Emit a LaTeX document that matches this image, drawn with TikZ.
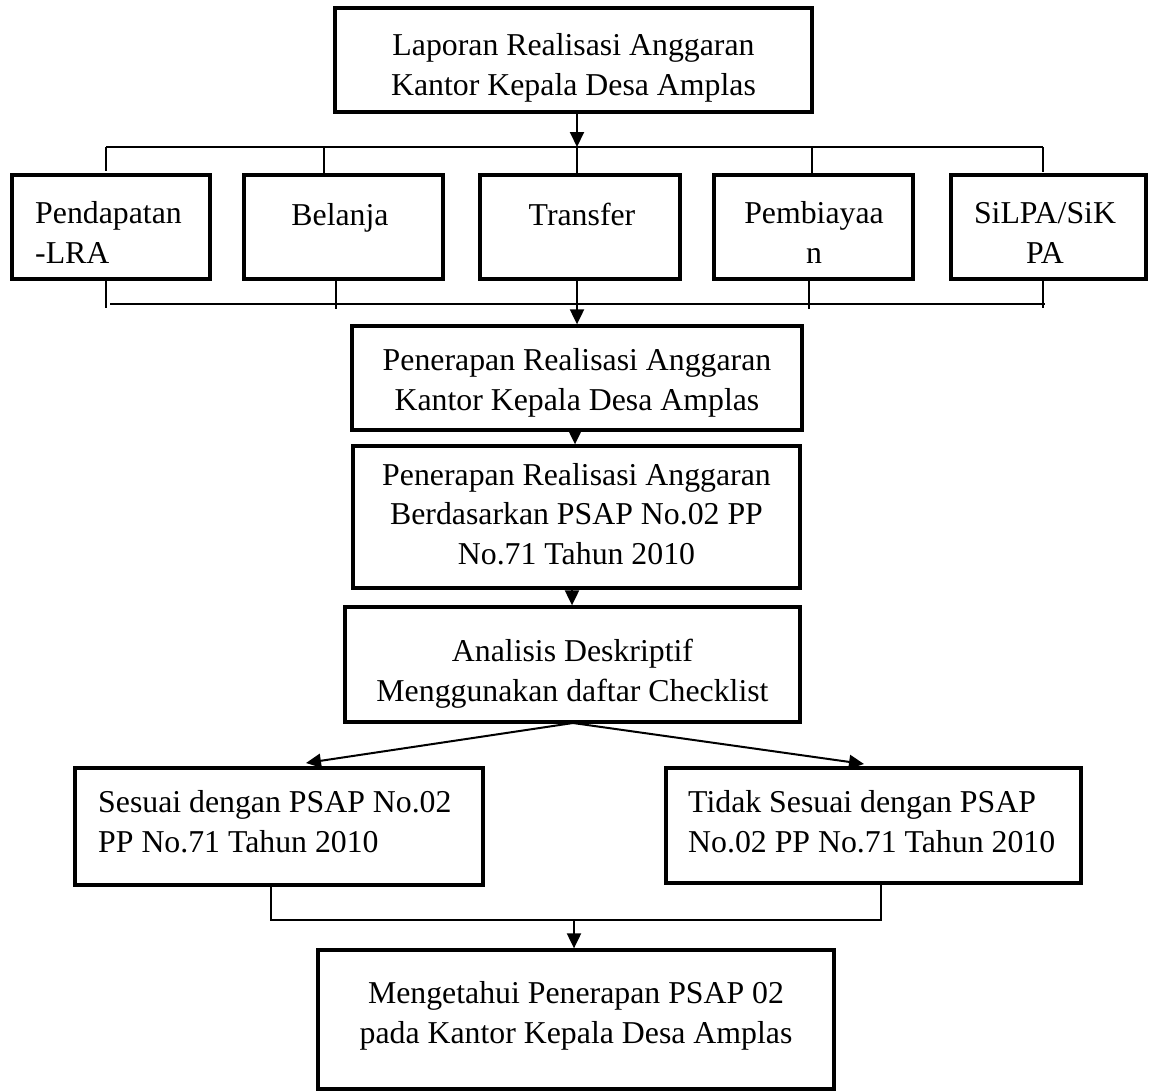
\documentclass[tikz,border=0pt]{standalone}
\usepackage{fontspec}
\setmainfont{Liberation Serif}
\usetikzlibrary{arrows.meta,calc}
\begin{document}
\begin{tikzpicture}[x=1pt,y=-1pt,
  boxx/.style={draw, line width=3.3pt, inner sep=0pt, rectangle},
  txt/.style={inner sep=0pt, font=\fontsize{31.8}{39.5}\selectfont},
  lnk/.style={line width=1.4pt},
  arr/.style={line width=2pt, -{Triangle[length=15pt,width=14pt]}}]
\useasboundingbox (0,0) rectangle (1149,1092);
% boxes
\node[boxx, minimum width=477pt, minimum height=104pt] (top) at (573.5,60) {};
\node[boxx, minimum width=198pt, minimum height=104pt] (p) at (111,227) {};
\node[boxx, minimum width=199pt, minimum height=104pt] (b) at (343.5,227) {};
\node[boxx, minimum width=200pt, minimum height=104pt] (t) at (580,227) {};
\node[boxx, minimum width=199pt, minimum height=104pt] (pm) at (813.5,227) {};
\node[boxx, minimum width=195pt, minimum height=104pt] (s) at (1048.5,227) {};
\node[boxx, minimum width=450pt, minimum height=104pt] (p1) at (577,378) {};
\node[boxx, minimum width=447pt, minimum height=142pt] (p2) at (576.5,517) {};
\node[boxx, minimum width=455pt, minimum height=115pt] (an) at (572.5,664.5) {};
\node[boxx, minimum width=408pt, minimum height=117pt] (se) at (279,826.5) {};
\node[boxx, minimum width=415pt, minimum height=115pt] (ti) at (873.5,825.5) {};
\node[boxx, minimum width=516pt, minimum height=139pt] (me) at (576,1019.5) {};
% texts (anchor = baseline of last line)
\node[txt, anchor=base, align=center] (topt) at (573.5,95) {Laporan Realisasi Anggaran\\Kantor Kepala Desa Amplas};
\node[txt, anchor=base west, align=left] (pt) at (35,263) {Pendapatan\\-LRA};
\node[txt, anchor=base] (bt) at (340,225) {Belanja};
\node[txt, anchor=base] (tt) at (582,225) {Transfer};
\node[txt, anchor=base, align=center] (pmt) at (814,263) {Pembiayaa\\n};
\node[txt, anchor=base, align=center] (st) at (1045,263) {SiLPA/SiK\\PA};
\node[txt, anchor=base, align=center] (p1t) at (577,410) {Penerapan Realisasi Anggaran\\Kantor Kepala Desa Amplas};
\node[txt, anchor=base, align=center] (p2t) at (576.5,564) {Penerapan Realisasi Anggaran\\Berdasarkan PSAP No.02 PP\\No.71 Tahun 2010};
\node[txt, anchor=base, align=center] (ant) at (572.5,701) {Analisis Deskriptif\\Menggunakan daftar Checklist};
\node[txt, anchor=base west, align=left] (set) at (98,852) {Sesuai dengan PSAP No.02\\PP No.71 Tahun 2010};
\node[txt, anchor=base west, align=left] (tit) at (688,852) {Tidak Sesuai dengan PSAP\\No.02 PP No.71 Tahun 2010};
\node[txt, anchor=base, align=center] (met) at (576,1043) {Mengetahui Penerapan PSAP 02\\pada Kantor Kepala Desa Amplas};
% upper bus
\coordinate (ua) at (106,147);
\coordinate (ub) at (324,147);
\coordinate (uc) at (577,147);
\coordinate (ud) at (812,147);
\coordinate (ue) at (1043,147);
\draw[arr] (top.south -| uc) -- (uc);
\draw[lnk] (ua) -- (ue);
\draw[lnk] (ua) -- ++(0,24);
\draw[lnk] (ub) -- (ub |- b.north);
\draw[lnk] (uc) -- (uc |- t.north);
\draw[lnk] (ud) -- (ud |- pm.north);
\draw[lnk] (ue) -- ++(0,25);
% lower bus
\coordinate (la) at (106,304);
\coordinate (lb) at (336,304);
\coordinate (lc) at (577,304);
\coordinate (ld) at (809,304);
\coordinate (le) at (1043,304);
\draw[lnk] ($(la)+(4,0)$) -- ($(le)+(2,0)$);
\draw[lnk] (la |- p.south) -- ($(la)+(0,4)$);
\draw[lnk] (lb |- b.south) -- ($(lb)+(0,5)$);
\draw[lnk] (ld |- pm.south) -- ($(ld)+(0,5)$);
\draw[lnk] (le |- s.south) -- ($(le)+(0,4)$);
\draw[arr] (lc |- t.south) -- (lc |- p1.north);
% vertical chain
\draw[arr] (p1.south -| 575,0) -- (p2.north -| 575,0);
\draw[arr] (p2.south -| 572,0) -- (an.north -| 572,0);
% diverging
\coordinate (ao) at (573,723);
\coordinate (sa) at (306,763);
\coordinate (tia) at (864,764);
\draw[arr] (ao) -- (sa);
\draw[arr] (ao) -- (tia);
% join
\coordinate (j1) at (271,920);
\coordinate (j2) at (881,920);
\coordinate (jm) at (574,920);
\draw[lnk] (j1 |- se.south) -- (j1) -- (j2) -- (j2 |- ti.south);
\draw[arr] (jm) -- (jm |- me.north);
\end{tikzpicture}
\end{document}
